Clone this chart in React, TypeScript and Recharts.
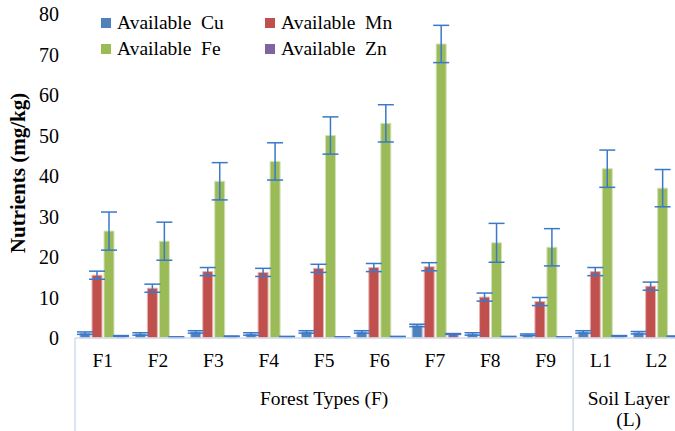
import { BarChart, Bar, XAxis, YAxis, ErrorBar } from "recharts"

const categories = ["F1", "F2", "F3", "F4", "F5", "F6", "F7", "F8", "F9", "L1", "L2"]
const groupOf = [0, 0, 0, 0, 0, 0, 0, 0, 0, 1, 1]
const groupNames = ["Forest Types (F)", "Soil Layer\n(L)"]

const cu = [1.2, 1.0, 1.5, 1.0, 1.5, 1.5, 3.1, 1.0, 0.8, 1.5, 1.3]
const cuErr = [0.3, 0.3, 0.3, 0.3, 0.3, 0.3, 0.3, 0.3, 0.2, 0.3, 0.3]
const mn = [15.5, 12.3, 16.4, 16.2, 17.2, 17.4, 17.6, 10.1, 9.0, 16.4, 12.8]
const mnErr = [1.0, 1.0, 1.0, 1.0, 1.0, 1.0, 1.0, 1.0, 1.0, 1.0, 1.0]
const fe = [26.4, 23.9, 38.7, 43.6, 50.0, 53.0, 72.6, 23.5, 22.4, 41.8, 37.0]
const feErr = [4.7, 4.7, 4.6, 4.6, 4.6, 4.6, 4.6, 4.8, 4.6, 4.6, 4.6]
const zn = [0.5, 0.2, 0.4, 0.3, 0.2, 0.3, 1.0, 0.3, 0.2, 0.5, 0.4]
const znErr = [0.1, 0.1, 0.1, 0.1, 0.1, 0.1, 0.1, 0.1, 0.1, 0.1, 0.1]

const yTicks = [0, 10, 20, 30, 40, 50, 60, 70, 80]

const series = [
  { key: "cu", err: "cuErr", name: "Available  Cu", color: "#4f81bd", edge: "#a9c2e3" },
  { key: "mn", err: "mnErr", name: "Available  Mn", color: "#c0504d", edge: "#e8b4b2" },
  { key: "fe", err: "feErr", name: "Available  Fe", color: "#9bbb59", edge: "#d3e2b6" },
  { key: "zn", err: "znErr", name: "Available  Zn", color: "#8064a2", edge: "#c4b6d6" },
]
// legend is two columns: Cu Mn / Fe Zn
const legendOrder = ["cu", "mn", "fe", "zn"]

const data = categories.map((c, i) => ({
  name: c,
  group: groupOf[i],
  cu: cu[i],
  cuErr: cuErr[i],
  mn: mn[i],
  mnErr: mnErr[i],
  fe: fe[i],
  feErr: feErr[i],
  zn: zn[i],
  znErr: znErr[i],
}))

const FONT = '"Liberation Serif"'
const SEP = "#d3ddee"

function CategoryTick(props: any) {
  const { x, y, payload, index } = props
  const half = payload && payload.offset ? payload.offset : 27.7
  const g = groupOf[index]
  const isFirst = index === 0 || groupOf[index - 1] !== g
  const isLast = index === categories.length - 1 || groupOf[index + 1] !== g
  let groupLabel = null
  if (isFirst) {
    const count = groupOf.filter((v) => v === g).length
    const cx = x + (count - 1) * half
    const lines = groupNames[g].split("\n")
    groupLabel = (
      <text x={cx} y={y + 67} textAnchor="middle" style={{ fontSize: 19.5, fontFamily: FONT }} fill="#000">
        {lines.map((l, k) => (
          <tspan key={k} x={cx} dy={k === 0 ? 0 : 21}>
            {l}
          </tspan>
        ))}
      </text>
    )
  }
  return (
    <g>
      <text x={x} y={y + 29} textAnchor="middle" style={{ fontSize: 19.5, fontFamily: FONT }} fill="#000">
        {payload.value}
      </text>
      {isFirst && <line x1={x - half} x2={x - half} y1={y} y2={y + 100} stroke={SEP} strokeWidth={1.5} />}
      {isLast && <line x1={x + half} x2={x + half} y1={y} y2={y + 100} stroke={SEP} strokeWidth={1.5} />}
      {groupLabel}
    </g>
  )
}

function YLabel(props: any) {
  const { x, y, height } = props.viewBox
  const cx = x + 18
  const cy = y + height / 2 - 3
  return (
    <text
      x={cx}
      y={cy}
      transform={`rotate(-90, ${cx}, ${cy})`}
      textAnchor="middle"
      dominantBaseline="central"
      style={{ fontSize: 21, fontWeight: "bold", fontFamily: FONT }}
      fill="#000"
    >
      Nutrients (mg/kg)
    </text>
  )
}

function Legend() {
  return (
    <div
      style={{
        position: "absolute",
        left: 101,
        top: 12,
        display: "grid",
        gridTemplateColumns: "164px auto",
        rowGap: 4,
        fontFamily: FONT,
        fontSize: 19.5,
        lineHeight: "22px",
        color: "#000",
      }}
    >
      {legendOrder.map((k) => {
        const s = series.find((d) => d.key === k)!
        return (
          <div key={k} style={{ display: "flex", alignItems: "center", whiteSpace: "pre" }}>
            <span style={{ width: 10, height: 10, background: s.color, marginRight: 6, display: "inline-block" }} />
            {s.name}
          </div>
        )
      })}
    </div>
  )
}

export default function App() {
  return (
    <div
      style={{
        position: "absolute",
        left: 0,
        top: 0,
        width: 675,
        height: 431,
        overflow: "hidden",
        background: "#fff",
        fontFamily: FONT,
      }}
    >
      <BarChart
        width={700}
        height={431}
        data={data}
        margin={{ top: 14, right: 16, bottom: 0, left: 0 }}
        barSize={10}
        barGap={2}
        style={{ fontFamily: FONT }}
      >
        <XAxis
          dataKey="name"
          height={93}
          axisLine={{ stroke: SEP, strokeWidth: 1.5 }}
          tickLine={false}
          tickSize={0}
          tickMargin={0}
          interval={0}
          tick={<CategoryTick />}
        />
        <YAxis
          width={75}
          domain={[0, 80]}
          ticks={yTicks}
          axisLine={false}
          tickLine={false}
          tickSize={0}
          tickMargin={16}
          tick={{ fontSize: 20, fontFamily: FONT, fill: "#000" }}
          label={<YLabel />}
        />
        {series.map((s) => (
          <Bar
            key={s.key}
            dataKey={s.key}
            name={s.name}
            fill={s.color}
            stroke={s.edge}
            strokeWidth={1}
            isAnimationActive={false}
          >
            <ErrorBar dataKey={s.err} width={8} strokeWidth={1.5} stroke="#3a78c9" direction="y" />
          </Bar>
        ))}
      </BarChart>
      <Legend />
    </div>
  )
}
